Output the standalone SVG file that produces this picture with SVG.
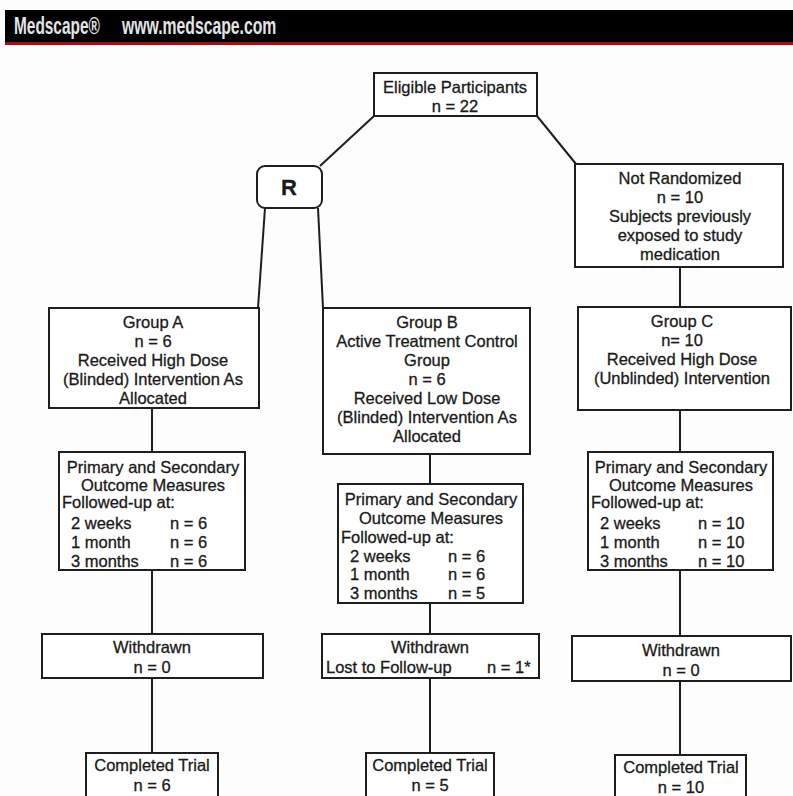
<svg xmlns="http://www.w3.org/2000/svg" width="793" height="796" viewBox="0 0 793 796">
<style>
.box{fill:#fff;stroke:#1e1e1e;stroke-width:2}
.t{font-family:"Liberation Sans",Arial,sans-serif;font-size:16.5px;fill:#1a1a1a;stroke:#1a1a1a;stroke-width:0.3;text-anchor:middle}
.l{text-anchor:start}
.conn{stroke:#1e1e1e;stroke-width:2;fill:none}
.hdr{font-family:"Liberation Sans",Arial,sans-serif;font-size:23px;font-weight:bold;fill:#e4e4e4}
</style>
<rect x="0" y="0" width="793" height="796" fill="#fdfdfd"/>
<g id="header">
<rect x="5" y="10" width="788" height="32" fill="#000"/>
<rect x="5" y="42" width="788" height="3" fill="#a01010"/>
<text class="hdr" transform="translate(14,34) scale(0.67,1)" x="0" y="0">Medscape®</text>
<text class="hdr" transform="translate(122,34) scale(0.685,1)" x="0" y="0">www.medscape.com</text>
</g>
<g id="connectors">
<line class="conn" x1="374" y1="116" x2="320" y2="166"/>
<line class="conn" x1="537" y1="116" x2="576" y2="164"/>
<line class="conn" x1="265" y1="208" x2="258" y2="308"/>
<line class="conn" x1="318" y1="208" x2="323" y2="308"/>
<line class="conn" x1="680" y1="267" x2="680" y2="307"/>
<line class="conn" x1="152" y1="408" x2="152" y2="634"/>
<line class="conn" x1="152" y1="678" x2="152" y2="753"/>
<line class="conn" x1="430" y1="454" x2="430" y2="634"/>
<line class="conn" x1="430" y1="678" x2="430" y2="753"/>
<line class="conn" x1="680" y1="410" x2="680" y2="636"/>
<line class="conn" x1="680" y1="681" x2="680" y2="755"/>
</g>
<g id="eligible">
<rect class="box" x="374" y="73" width="163" height="43"/>
<text class="t" x="455" y="93">Eligible Participants</text>
<text class="t" x="455" y="112">n = 22</text>
</g>
<g id="R">
<rect class="box" x="257" y="166" width="65" height="42" rx="8"/>
<text class="t" x="289" y="195" style="font-size:22px;font-weight:bold">R</text>
</g>
<g id="notRandomized">
<rect class="box" x="575" y="164" width="208" height="103"/>
<text class="t" x="680" y="184">Not Randomized</text>
<text class="t" x="680" y="203">n = 10</text>
<text class="t" x="680" y="222">Subjects previously</text>
<text class="t" x="680" y="241">exposed to study</text>
<text class="t" x="680" y="260">medication</text>
</g>
<g id="groupA">
<rect class="box" x="49" y="308" width="210" height="100"/>
<text class="t" x="153" y="328">Group A</text>
<text class="t" x="153" y="347">n = 6</text>
<text class="t" x="153" y="366">Received High Dose</text>
<text class="t" x="153" y="385">(Blinded) Intervention As</text>
<text class="t" x="153" y="404">Allocated</text>
</g>
<g id="groupB">
<rect class="box" x="323" y="308" width="207" height="146"/>
<text class="t" x="427" y="328">Group B</text>
<text class="t" x="427" y="347">Active Treatment Control</text>
<text class="t" x="427" y="366">Group</text>
<text class="t" x="427" y="385">n = 6</text>
<text class="t" x="427" y="404">Received Low Dose</text>
<text class="t" x="427" y="423">(Blinded) Intervention As</text>
<text class="t" x="427" y="442">Allocated</text>
</g>
<g id="groupC">
<rect class="box" x="578" y="307" width="213" height="103"/>
<text class="t" x="682" y="327">Group C</text>
<text class="t" x="682" y="346">n= 10</text>
<text class="t" x="682" y="365">Received High Dose</text>
<text class="t" x="682" y="384">(Unblinded) Intervention</text>
</g>
<g id="primaryA">
<rect class="box" x="59" y="452" width="186" height="118"/>
<text class="t" x="153" y="473">Primary and Secondary</text>
<text class="t" x="153" y="491">Outcome Measures</text>
<text class="t l" x="62" y="508">Followed-up at:</text>
<text class="t l" x="71" y="529">2 weeks</text><text class="t l" x="170" y="529">n = 6</text>
<text class="t l" x="71" y="548">1 month</text><text class="t l" x="170" y="548">n = 6</text>
<text class="t l" x="71" y="567">3 months</text><text class="t l" x="170" y="567">n = 6</text>
</g>
<g id="primaryB">
<rect class="box" x="338" y="484" width="185" height="119"/>
<text class="t" x="431" y="505">Primary and Secondary</text>
<text class="t" x="431" y="524">Outcome Measures</text>
<text class="t l" x="341" y="543">Followed-up at:</text>
<text class="t l" x="350" y="562">2 weeks</text><text class="t l" x="448" y="562">n = 6</text>
<text class="t l" x="350" y="580">1 month</text><text class="t l" x="448" y="580">n = 6</text>
<text class="t l" x="350" y="599">3 months</text><text class="t l" x="448" y="599">n = 5</text>
</g>
<g id="primaryC">
<rect class="box" x="588" y="452" width="185" height="118"/>
<text class="t" x="681" y="473">Primary and Secondary</text>
<text class="t" x="681" y="491">Outcome Measures</text>
<text class="t l" x="591" y="508">Followed-up at:</text>
<text class="t l" x="600" y="529">2 weeks</text><text class="t l" x="698" y="529">n = 10</text>
<text class="t l" x="600" y="548">1 month</text><text class="t l" x="698" y="548">n = 10</text>
<text class="t l" x="600" y="567">3 months</text><text class="t l" x="698" y="567">n = 10</text>
</g>
<g id="withdrawnA">
<rect class="box" x="42" y="634" width="221" height="44"/>
<text class="t" x="152" y="653">Withdrawn</text>
<text class="t" x="152" y="673">n = 0</text>
</g>
<g id="withdrawnB">
<rect class="box" x="322" y="634" width="217" height="44"/>
<text class="t" x="430" y="653">Withdrawn</text>
<text class="t l" x="326" y="673">Lost to Follow-up</text>
<text class="t l" x="487" y="673">n = 1*</text>
</g>
<g id="withdrawnC">
<rect class="box" x="572" y="636" width="219" height="45"/>
<text class="t" x="681" y="656">Withdrawn</text>
<text class="t" x="681" y="676">n = 0</text>
</g>
<g id="completedA">
<rect class="box" x="86" y="753" width="132" height="50"/>
<text class="t" x="152" y="771">Completed Trial</text>
<text class="t" x="152" y="791">n = 6</text>
</g>
<g id="completedB">
<rect class="box" x="366" y="753" width="128" height="50"/>
<text class="t" x="430" y="771">Completed Trial</text>
<text class="t" x="430" y="791">n = 5</text>
</g>
<g id="completedC">
<rect class="box" x="615" y="755" width="131" height="50"/>
<text class="t" x="681" y="773">Completed Trial</text>
<text class="t" x="681" y="793">n = 10</text>
</g>
</svg>
